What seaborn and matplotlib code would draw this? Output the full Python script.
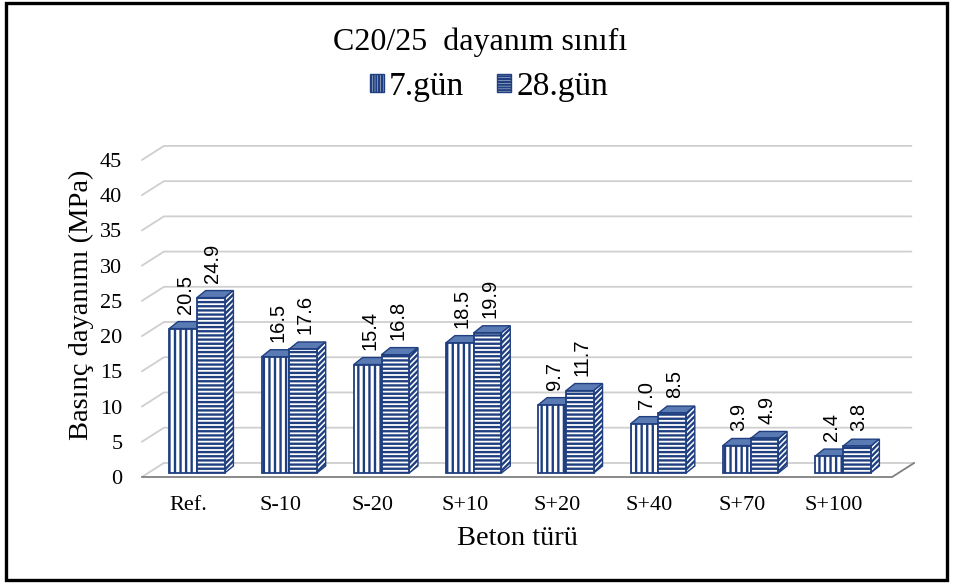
import pandas as pd
import matplotlib.pyplot as plt
import matplotlib.transforms as mtransforms
from matplotlib.patches import Polygon, Rectangle, Patch
import seaborn as sns

kategoriler = ['Ref.', 'S-10', 'S-20', 'S+10', 'S+20', 'S+40', 'S+70', 'S+100']
gun7 = [20.5, 16.5, 15.4, 18.5, 9.7, 7.0, 3.9, 2.4]
gun28 = [24.9, 17.6, 16.8, 19.9, 11.7, 8.5, 4.9, 3.8]
seriler = ['7.gün', '28.gün']
yticks = [0, 5, 10, 15, 20, 25, 30, 35, 40, 45]

df = pd.DataFrame({
    'Beton': kategoriler * 2,
    'Seri': [seriler[0]] * len(kategoriler) + [seriler[1]] * len(kategoriler),
    'Deger': gun7 + gun28,
})

koyu = '#1F3F80'
ust = '#5A7AB4'
grid_renk = '#CFCFCF'
taban_renk = '#808080'

sns.set_style('white')
plt.rcParams['font.family'] = ['Liberation Serif', 'DejaVu Serif']
plt.rcParams['hatch.linewidth'] = 1.7
plt.rcParams['text.color'] = 'black'
plt.rcParams['axes.labelcolor'] = 'black'
plt.rcParams['xtick.labelcolor'] = 'black'
plt.rcParams['ytick.labelcolor'] = 'black'

fig = plt.figure(figsize=(9.55, 5.85), dpi=100)
ax = fig.add_axes([0.1485, 0.1846, 0.8117, 0.572])

sns.barplot(data=df, x='Beton', y='Deger', hue='Seri', palette=['white', 'white'],
            edgecolor=koyu, linewidth=1.3, width=0.6, legend=False, ax=ax, zorder=3)

ax.set_xlim(-0.5, 7.9)
ax.set_ylim(0, 47.5)

# derinlik (3B gorunum)
gx, gy = 0.24, 2.0      # taban / grid derinligi
bx, by = 0.095, 1.0     # cubuk derinligi
kaydir = mtransforms.offset_copy(ax.transData, fig=fig, x=9, y=4, units='dots')

desenler = ['|||', '----']
for i, cont in enumerate(ax.containers):
    for bar in cont:
        bar.set_hatch(desenler[i])
        bar.set_transform(kaydir)
        x0, w, h = bar.get_x(), bar.get_width(), bar.get_height()
        tepe = Polygon([(x0, h), (x0 + w, h), (x0 + w + bx, h + by), (x0 + bx, h + by)],
                       closed=True, facecolor=ust, edgecolor=koyu, linewidth=1.0,
                       transform=kaydir, zorder=2.5)
        yan = Polygon([(x0 + w, 0), (x0 + w + bx, by), (x0 + w + bx, h + by), (x0 + w, h)],
                      closed=True, facecolor='white', edgecolor=koyu, linewidth=1.0,
                      hatch='//////', transform=kaydir, zorder=2.5)
        ax.add_patch(tepe)
        ax.add_patch(yan)
        ax.text(x0 + w / 2 + bx / 4, h + by + 1.1, f'{h:.1f}', rotation=90,
                ha='center', va='bottom', fontsize=14.5, family='Liberation Sans',
                color='black', transform=kaydir, zorder=5)

# grid cizgileri ve taban
x_sag = 7.84
for t in yticks:
    if t == 0:
        continue
    ax.plot([-0.5, -0.5 + gx, x_sag], [t, t + gy, t + gy], color=grid_renk,
            lw=1.3, zorder=0, clip_on=False)
ax.plot([-0.5 + gx, x_sag + 0.03], [gy, gy], color=grid_renk, lw=1.3, zorder=0, clip_on=False)
ax.plot([-0.5, -0.5 + gx], [0, gy], color=grid_renk, lw=1.3, zorder=0, clip_on=False)
ax.plot([-0.5, 7.63, 7.63 + gx], [0, 0, gy], color=taban_renk, lw=1.3, zorder=1, clip_on=False)

for s in ax.spines.values():
    s.set_visible(False)
ax.set_yticks(yticks)
ax.set_yticklabels([str(t) for t in yticks])
ax.tick_params(axis='y', length=0, pad=14, labelsize=16)
ax.tick_params(axis='x', length=0, pad=14, labelsize=16)

ax.set_ylabel('Basınç dayanımı (MPa)', fontsize=20.5)
ax.yaxis.set_label_coords(-0.062, 0.515)
ax.set_xlabel('Beton türü', fontsize=20.5)
ax.xaxis.set_label_coords(0.485, -0.147)

fig.text(0.503, 0.928, 'C20/25  dayanım sınıfı', ha='center', va='center', fontsize=23)

handles = [Patch(facecolor='white', edgecolor=koyu, hatch='||||||', linewidth=1.0),
           Patch(facecolor='white', edgecolor=koyu, hatch='------', linewidth=1.0)]
fig.legend(handles, seriler, loc='center', bbox_to_anchor=(0.512, 0.852), ncol=2,
           frameon=False, fontsize=24, handlelength=0.42, handleheight=0.42,
           handletextpad=0.15, columnspacing=1.0)

fig.patches.append(Rectangle((0.0063, 0.0085), 0.985, 0.986, transform=fig.transFigure,
                             fill=False, edgecolor='black', linewidth=2.4))

fig.savefig('out.png', dpi=100)
